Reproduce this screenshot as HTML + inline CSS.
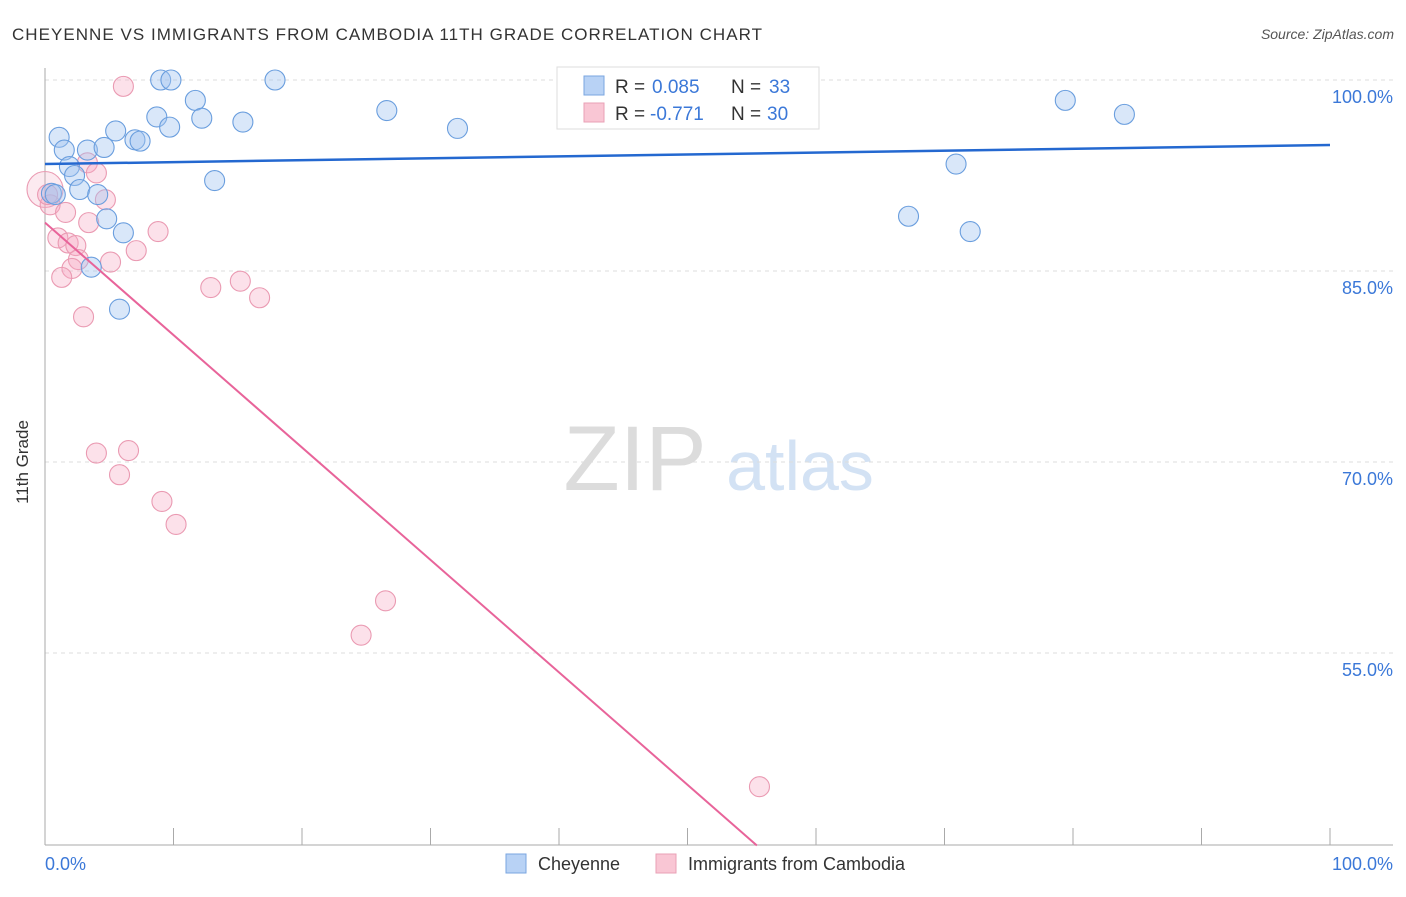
<!DOCTYPE html>
<html><head><meta charset="utf-8"><style>
body{margin:0;background:#fff;font-family:"Liberation Sans",sans-serif}
svg text{font-family:"Liberation Sans",sans-serif}
</style></head><body>
<svg width="1406" height="892" xmlns="http://www.w3.org/2000/svg">
<text x="12" y="40" font-size="17" fill="#333" textLength="750">CHEYENNE VS IMMIGRANTS FROM CAMBODIA 11TH GRADE CORRELATION CHART</text>
<text x="1394" y="39" font-size="14" fill="#555" font-style="italic" text-anchor="end">Source: ZipAtlas.com</text>
<g>
<text x="635" y="490" font-size="92" font-family="Liberation Serif" fill="#dcdcdc" text-anchor="middle">ZIP</text>
<text x="800" y="490" font-size="70" fill="#d3e2f4" text-anchor="middle">atlas</text></g>
<g id="grid"></g>
<line x1="45" y1="68" x2="45" y2="845" stroke="#aaa"/>
<line x1="45" y1="845" x2="1393" y2="845" stroke="#aaa"/>
<g id="xt"></g>
<text x="22" y="456" font-size="17" fill="#333" transform="rotate(-90 28 456)" text-anchor="middle">11th Grade</text>
<text x="45" y="870" font-size="18" fill="#3b78d8">0.0%</text>
<text x="1393" y="870" font-size="18" fill="#3b78d8" text-anchor="end">100.0%</text>
<g id="pts"></g>
<g id="lines"></g>
<g>
<rect x="557" y="67" width="262" height="62" fill="#fff" stroke="#ddd"/>
<rect x="584" y="76" width="20" height="19" fill="#b8d2f5" stroke="#7aa6e0"/>
<rect x="584" y="103" width="20" height="19" fill="#f9c6d4" stroke="#e9a0b6"/>
<text x="615" y="93" font-size="19" fill="#333">R =</text>
<text x="652" y="93" font-size="19" fill="#3b78d8">0.085</text>
<text x="731" y="93" font-size="19" fill="#333">N =</text>
<text x="769" y="93" font-size="19" fill="#3b78d8">33</text>
<text x="615" y="120" font-size="19" fill="#333">R =</text>
<text x="650" y="120" font-size="19" fill="#3b78d8">-0.771</text>
<text x="731" y="120" font-size="19" fill="#333">N =</text>
<text x="767" y="120" font-size="19" fill="#3b78d8">30</text>
</g>
<g>
<rect x="506" y="854" width="20" height="19" fill="#b8d2f5" stroke="#7aa6e0"/>
<text x="538" y="870" font-size="18" fill="#333">Cheyenne</text>
<rect x="656" y="854" width="20" height="19" fill="#f9c6d4" stroke="#e9a0b6"/>
<text x="688" y="870" font-size="18" fill="#333">Immigrants from Cambodia</text>
</g>
</svg>
<script>
const blueX=[9.0,9.8,17.9,11.7,26.6,8.7,12.2,15.4,9.7,32.1,5.5,1.1,7.0,7.4,1.5,3.3,4.6,1.9,2.3,13.2,2.7,4.1,0.5,4.8,6.1,3.6,5.8,79.4,84.0,70.9,67.2,72.0,0.8];
const blueY=[100,100,100,98.4,97.6,97.1,97.0,96.7,96.3,96.2,96.0,95.5,95.3,95.2,94.5,94.5,94.7,93.2,92.5,92.1,91.4,91.0,91.1,89.1,88.0,85.3,82.0,98.4,97.3,93.4,89.3,88.1,91.0];
const pinkX=[6.1,3.3,4.0,0.0,0.4,4.7,1.6,3.4,8.8,1.0,1.8,2.4,7.1,5.1,2.6,2.1,1.3,12.9,15.2,16.7,3.0,4.0,6.5,5.8,9.1,10.2,26.5,24.6,55.6,0.2];
const pinkY=[99.5,93.5,92.7,91.4,90.2,90.6,89.6,88.8,88.1,87.6,87.2,87.0,86.6,85.7,85.9,85.2,84.5,83.7,84.2,82.9,81.4,70.7,70.9,69.0,66.9,65.1,59.1,56.4,44.5,91.0];
const yTicks=[100,85,70,55];
const yTickLabels=["100.0%","85.0%","70.0%","55.0%"];
const xTicks=[0,10,20,30,40,50,60,70,80,90,100];
const blueLine=[93.4,94.9];
const pinkLine=[88.8,-0.883,55.4];
const NS="http://www.w3.org/2000/svg";
const sx=v=>45+v*12.85, sy=v=>80+(100-v)*191/15;
function mk(p,t,a){const e=document.createElementNS(NS,t);for(const k in a)e.setAttribute(k,a[k]);p.appendChild(e);return e;}
const g=document.getElementById('grid');
yTicks.forEach((t,i)=>{const l=mk(g,'line',{x1:45,x2:1393,y1:sy(t),y2:sy(t),stroke:'#ddd','stroke-dasharray':'4,4'});


const tx=mk(g,'text',{x:1393,y:sy(t)+23,'font-size':18,fill:'#3b78d8','text-anchor':'end'});tx.textContent=yTickLabels[i];

});
const xt=document.getElementById('xt');
xTicks.forEach(t=>{const l=mk(xt,'line',{x1:sx(t),x2:sx(t),y1:828,y2:845,stroke:'#aaa'});

});
const pts=document.getElementById('pts');
pinkX.forEach((x,i)=>{const c=mk(pts,'circle',{cx:sx(x),cy:sy(pinkY[i]),r:(i==3?18:10),fill:(i==3?'rgba(245,170,195,0.25)':'rgba(245,170,195,0.35)'),stroke:'#ea9ab2','stroke-width':1.1});

});
blueX.forEach((x,i)=>{const c=mk(pts,'circle',{cx:sx(x),cy:sy(blueY[i]),r:10,fill:'rgba(160,196,240,0.4)',stroke:'#6a9ede','stroke-width':1.1});

});
const ln=document.getElementById('lines');
const b=mk(ln,'line',{x1:sx(0),y1:sy(blueLine[0]),x2:sx(100),y2:sy(blueLine[1]),stroke:'#2468d0','stroke-width':2.5});


const p=mk(ln,'line',{x1:sx(0),y1:sy(pinkLine[0]),x2:sx(pinkLine[2]),y2:sy(pinkLine[0]+pinkLine[1]*pinkLine[2]),stroke:'#e8649a','stroke-width':2});


</script>
</body></html>
